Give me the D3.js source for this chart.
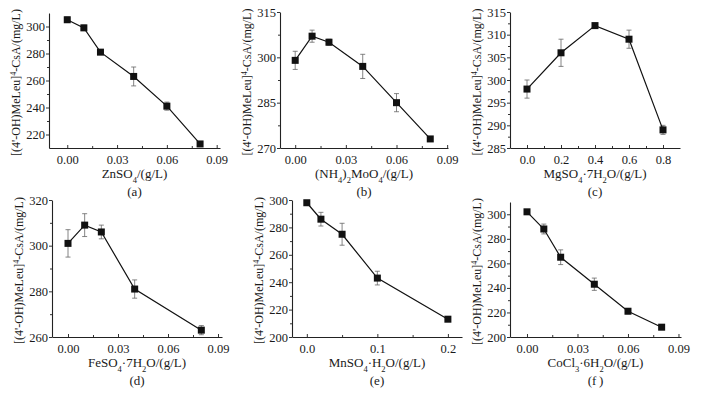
<!DOCTYPE html>
<html lang="en">
<head>
<meta charset="UTF-8"/>
<title>Metal ions</title>
<script src="https://d3js.org/d3.v7.min.js"></script>
<style>
    body { margin: 0; background: #fff; }
    svg text { font-family: "Liberation Serif", "DejaVu Serif", serif; fill: #1a1a1a; }
</style>
</head>
<body>
<script>
    // (a) ZnSO4
    var znX = [0, 0.01, 0.02, 0.04, 0.06, 0.08];
    var znY = [305, 299, 281, 263, 241, 213];
    var znErr = [2, 2, 1, 7, 3, 1];
    // (b) (NH4)2MoO4
    var moX = [0, 0.01, 0.02, 0.04, 0.06, 0.08];
    var moY = [299, 307, 305, 297, 285, 273];
    var moErr = [3, 2, 1, 4, 3, 0.5];
    // (c) MgSO4·7H2O
    var mgX = [0, 0.2, 0.4, 0.6, 0.8];
    var mgY = [298, 306, 312, 309, 289];
    var mgErr = [2, 3, 0.5, 2, 1];
    // (d) FeSO4·7H2O
    var feX = [0, 0.01, 0.02, 0.04, 0.08];
    var feY = [301, 309, 306, 281, 263];
    var feErr = [6, 5, 3, 4, 2];
    // (e) MnSO4·H2O
    var mnX = [0, 0.02, 0.05, 0.1, 0.2];
    var mnY = [298, 286, 275, 243, 213];
    var mnErr = [1, 5, 8, 5, 1];
    // (f) CoCl2·6H2O
    var coX = [0, 0.01, 0.02, 0.04, 0.06, 0.08];
    var coY = [302, 288, 265, 243, 221, 208];
    var coErr = [1, 4, 6, 5, 2, 2];

    var xTicks003 = [0, 0.03, 0.06, 0.09];

    var w = 710, h = 394;
    var svg = d3.select("body").append("svg").attr("width", w).attr("height", h);

    // each label piece: [text, "sub"|null]
    var panels = [
        { x: znX, y: znY, e: znErr, box: [49, 220, 13, 148], xd: [-0.011, 0.092], yd: [210, 310],
          xt: xTicks003, xf: ".2f", yt: [220, 240, 260, 280, 300],
          label: [["ZnSO"], ["4", "sub"], ["/(g/L)"]], tag: "(a)" },
        { x: moX, y: moY, e: moErr, box: [280, 448, 12, 148], xd: [-0.009, 0.0905], yd: [270, 315],
          xt: xTicks003, xf: ".2f", yt: [270, 285, 300, 315],
          label: [["(NH"], ["4", "sub"], [")"], ["2", "sub"], ["MoO"], ["4", "sub"], ["/(g/L)"]], tag: "(b)" },
        { x: mgX, y: mgY, e: mgErr, box: [510, 680, 12, 148], xd: [-0.1, 0.9], yd: [285, 315],
          xt: [0, 0.2, 0.4, 0.6, 0.8], xf: ".1f", yt: [285, 290, 295, 300, 305, 310, 315],
          label: [["MgSO"], ["4", "sub"], ["·7H"], ["2", "sub"], ["O/(g/L)"]], tag: "(c)" },
        { x: feX, y: feY, e: feErr, box: [52, 222, 200, 337], xd: [-0.0096, 0.0924], yd: [260, 320],
          xt: xTicks003, xf: ".2f", yt: [260, 280, 300, 320],
          label: [["FeSO"], ["4", "sub"], ["·7H"], ["2", "sub"], ["O/(g/L)"]], tag: "(d)" },
        { x: mnX, y: mnY, e: mnErr, box: [292, 462, 200, 337], xd: [-0.021, 0.22], yd: [200, 300],
          xt: [0, 0.1, 0.2], xf: ".1f", yt: [200, 220, 240, 260, 280, 300],
          label: [["MnSO"], ["4", "sub"], ["·H"], ["2", "sub"], ["O/(g/L)"]], tag: "(e)" },
        { x: coX, y: coY, e: coErr, box: [510, 681, 202, 337], xd: [-0.0101, 0.0915], yd: [200, 310],
          xt: xTicks003, xf: ".2f", yt: [200, 220, 240, 260, 280, 300],
          label: [["CoCl"], ["3", "sub"], ["·6H"], ["2", "sub"], ["O/(g/L)"]], tag: "(f\u2009)" }
    ];

    function midTicks(t) {
        var out = [];
        for (var i = 0; i < t.length - 1; i++) out.push((t[i] + t[i + 1]) / 2);
        return out;
    }

    panels.forEach(function(p) {
        var L = p.box[0], R = p.box[1], T = p.box[2], B = p.box[3];
        var xScale = d3.scaleLinear().domain(p.xd).range([L, R]);
        var yScale = d3.scaleLinear().domain(p.yd).range([B, T]);
        var g = svg.append("g");

        // minor ticks
        g.append("g").attr("transform", "translate(" + L + ",0)")
            .call(d3.axisLeft(yScale).tickValues(midTicks(p.yt)).tickSize(2).tickFormat(""))
            .call(function(a) { a.select(".domain").remove(); });
        g.append("g").attr("transform", "translate(0," + B + ")")
            .call(d3.axisTop(xScale).tickValues(midTicks(p.xt)).tickSize(2).tickFormat(""))
            .call(function(a) { a.select(".domain").remove(); });

        // y axis
        var ya = g.append("g").attr("transform", "translate(" + L + ",0)")
            .call(d3.axisLeft(yScale).tickValues(p.yt).tickSize(3).tickSizeOuter(0).tickPadding(1));
        ya.selectAll("text").style("font-size", "12.5px").attr("font-family", null);

        // x axis, ticks pointing inward
        var xa = g.append("g").attr("transform", "translate(0," + B + ")")
            .call(d3.axisBottom(xScale).tickValues(p.xt).tickFormat(d3.format(p.xf))
                .tickSizeInner(-3).tickSizeOuter(0).tickPadding(7));
        xa.selectAll("text").style("font-size", "12.5px").attr("font-family", null);
        g.selectAll(".domain").attr("stroke", "#222").attr("stroke-width", 1.1);
        g.selectAll(".tick line").attr("stroke", "#333");

        // y label
        var cy = (T + B) / 2 + 2;
        var yl = g.append("text")
            .attr("transform", "translate(" + (L - 29) + "," + cy + ") rotate(-90)")
            .attr("text-anchor", "middle")
            .style("font-size", "12px");
        yl.append("tspan").text("[(4'-OH)MeLeu]");
        yl.append("tspan").attr("baseline-shift", "super").style("font-size", "8px").text("4");
        yl.append("tspan").text("-CsA/(mg/L)");

        // x label
        var xl = g.append("text")
            .attr("x", (L + R) / 2)
            .attr("y", B + 30)
            .attr("text-anchor", "middle")
            .style("font-size", "13px");
        p.label.forEach(function(part) {
            var ts = xl.append("tspan").text(part[0]);
            if (part[1] === "sub") {
                ts.attr("baseline-shift", "sub").style("font-size", "8.5px");
            }
        });

        g.append("text")
            .attr("x", (L + R) / 2)
            .attr("y", B + 48)
            .attr("text-anchor", "middle")
            .style("font-size", "13px")
            .text(p.tag);

        var pts = p.x.map(function(v, i) { return { x: v, y: p.y[i], e: p.e[i] }; });

        // error bars
        var eb = g.append("g").attr("stroke", "#666").attr("stroke-width", 0.8);
        pts.forEach(function(d) {
            var cx = xScale(d.x);
            eb.append("line").attr("x1", cx).attr("x2", cx)
                .attr("y1", yScale(d.y - d.e)).attr("y2", yScale(d.y + d.e));
            [d.y - d.e, d.y + d.e].forEach(function(v) {
                eb.append("line").attr("x1", cx - 2.5).attr("x2", cx + 2.5)
                    .attr("y1", yScale(v)).attr("y2", yScale(v));
            });
        });

        // line
        g.append("path").datum(pts)
            .attr("fill", "none")
            .attr("stroke", "#111")
            .attr("stroke-width", 1.2)
            .attr("d", d3.line().x(function(d) { return xScale(d.x); }).y(function(d) { return yScale(d.y); }));

        // markers
        g.selectAll("rect.pt").data(pts).enter().append("rect")
            .attr("class", "pt")
            .attr("x", function(d) { return xScale(d.x) - 3.5; })
            .attr("y", function(d) { return yScale(d.y) - 3.5; })
            .attr("width", 7).attr("height", 7)
            .attr("fill", "#111");
    });
</script>
</body>
</html>
